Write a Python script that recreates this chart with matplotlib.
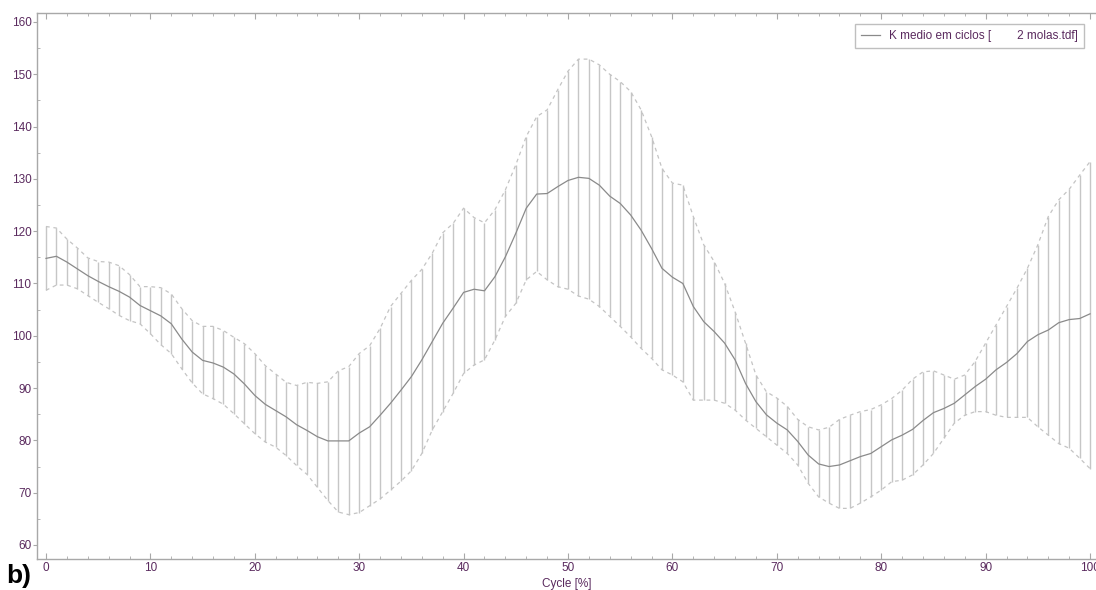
import numpy as np
import matplotlib
matplotlib.use("Agg")
import matplotlib.pyplot as plt
from matplotlib.ticker import MultipleLocator

cycle = list(range(0, 101))

k_mean = [114.8, 115.2, 114.1, 112.8, 111.5, 110.4, 109.4, 108.5, 107.4, 105.8,
          104.8, 103.8, 102.3, 99.4, 96.9, 95.3, 94.8, 94.0, 92.7, 90.8,
          88.6, 86.9, 85.7, 84.5, 83.0, 81.9, 80.7, 79.9, 79.9, 79.9,
          81.4, 82.6, 84.8, 87.1, 89.6, 92.2, 95.4, 98.9, 102.4, 105.3,
          108.3, 108.9, 108.6, 111.3, 115.1, 119.6, 124.4, 127.1, 127.2, 128.5,
          129.7, 130.3, 130.1, 128.8, 126.7, 125.3, 123.1, 120.2, 116.7, 112.9,
          111.2, 110.0, 105.6, 102.7, 100.8, 98.6, 95.4, 90.9, 87.4, 84.9,
          83.3, 82.0, 79.8, 77.2, 75.5, 75.0, 75.3, 76.1, 76.9, 77.5,
          78.8, 80.1, 81.0, 82.1, 83.8, 85.3, 86.1, 87.1, 88.7, 90.3,
          91.7, 93.5, 94.9, 96.6, 98.9, 100.2, 101.1, 102.5, 103.1, 103.3,
          104.2]

k_upper = [120.9, 120.6, 118.5, 116.8, 114.9, 114.2, 114.1, 113.4, 111.7, 109.4,
           109.4, 109.2, 108.0, 105.2, 102.9, 101.8, 101.8, 101.0, 99.7, 98.5,
           96.6, 94.3, 92.7, 91.1, 90.5, 91.1, 90.9, 91.2, 93.3, 94.1,
           96.6, 98.1, 101.4, 105.6, 108.1, 110.6, 112.7, 115.8, 119.7, 121.5,
           124.4, 122.6, 121.6, 124.1, 127.9, 132.7, 138.1, 141.9, 143.2, 147.0,
           150.6, 152.9, 152.9, 151.8, 150.0, 148.6, 146.7, 143.2, 138.1, 132.0,
           129.2, 128.8, 122.8, 117.4, 114.2, 110.0, 104.6, 98.6, 92.5, 89.3,
           88.1, 86.5, 84.0, 82.6, 82.0, 82.5, 84.0, 84.8, 85.5, 85.9,
           86.8, 88.0, 89.6, 91.7, 93.1, 93.3, 92.5, 91.7, 92.5, 95.1,
           98.6, 102.1, 105.6, 109.1, 112.9, 117.4, 122.8, 126.0, 128.0, 130.7,
           133.3]

k_lower = [108.7, 109.7, 109.7, 109.0, 107.7, 106.4, 105.2, 103.9, 102.9, 102.3,
           100.4, 98.3, 96.6, 93.7, 91.0, 88.9, 88.0, 86.9, 85.1, 83.2,
           81.3, 79.7, 78.7, 77.1, 75.2, 73.5, 71.0, 68.5, 66.3, 65.8,
           66.2, 67.5, 68.8, 70.5, 72.2, 74.2, 77.5, 82.0, 85.5, 89.0,
           92.8, 94.4, 95.4, 99.2, 103.7, 106.2, 110.7, 112.3, 110.7, 109.4,
           108.9, 107.6, 107.0, 105.6, 103.7, 101.8, 99.8, 97.6, 95.7, 93.5,
           92.5, 91.2, 87.7, 87.7, 87.7, 87.1, 85.8, 83.9, 82.3, 80.7,
           79.1, 77.5, 75.3, 71.8, 69.2, 68.0, 67.0, 67.0, 68.0, 69.2,
           70.5, 72.1, 72.4, 73.4, 75.3, 77.5, 80.4, 83.3, 84.8, 85.5,
           85.5, 84.8, 84.4, 84.4, 84.4, 82.6, 81.0, 79.4, 78.5, 76.6,
           74.6]

y_ticks = list(range(60, 161, 10))
x_ticks = list(range(0, 101, 10))
legend_label = "K medio em ciclos [        2 molas.tdf]"
x_label = "Cycle [%]"

plt.rcParams['font.family'] = ['Liberation Sans', 'DejaVu Sans']

label_col = "#5a2a5e"
spine_col = "#a8a8a8"

fig = plt.figure(figsize=(10.96, 5.9), dpi=100)
ax = fig.add_axes([37 / 1096, 31 / 590, 1 - 37 / 1096, (559 - 13) / 590])

ax.vlines(cycle, k_lower, k_upper, color="#c6c6c6", linewidth=1.0, zorder=1)
ax.plot(cycle, k_upper, color="#c4c4c4", linewidth=0.9, linestyle=(0, (3, 3)), zorder=2)
ax.plot(cycle, k_lower, color="#c4c4c4", linewidth=0.9, linestyle=(0, (3, 3)), zorder=2)
ax.plot(cycle, k_mean, color="#8a8a8a", linewidth=0.9, zorder=3, label=legend_label)

ax.set_xlim(-0.86, 100.57)
ax.set_ylim(57.32, 161.72)

ax.set_xticks(x_ticks)
ax.set_yticks(y_ticks)
ax.xaxis.set_minor_locator(MultipleLocator(2))
ax.yaxis.set_minor_locator(MultipleLocator(5))

for s in ["left", "bottom", "top"]:
    ax.spines[s].set_color(spine_col)
    ax.spines[s].set_linewidth(1.0)
ax.spines["right"].set_visible(False)

ax.tick_params(axis="x", which="major", direction="in", length=4, color=spine_col,
               labelcolor=label_col, labelsize=8.5, top=True, pad=2)
ax.tick_params(axis="x", which="minor", direction="in", length=2.5, color=spine_col, top=True)
ax.tick_params(axis="y", which="major", direction="out", length=3, color=spine_col,
               labelcolor=label_col, labelsize=8.5, pad=1)
ax.tick_params(axis="y", which="minor", direction="in", length=2, color=spine_col)

ax.set_xlabel(x_label, color=label_col, fontsize=8.5, labelpad=3)

leg = ax.legend(loc="upper right", bbox_to_anchor=(1 - 6 / 1059, 1 - 5 / 546),
                frameon=True, fancybox=False, fontsize=8.5, handlelength=1.6,
                borderpad=0.5, handletextpad=0.8, labelcolor=label_col)
leg.get_frame().set_edgecolor("#b0b0b0")
leg.get_frame().set_linewidth(1.0)

fig.text(6 / 1096, 2 / 590, "b)", fontsize=19, fontweight="bold", color="black",
         ha="left", va="bottom")

fig.savefig("out.png", dpi=100)
